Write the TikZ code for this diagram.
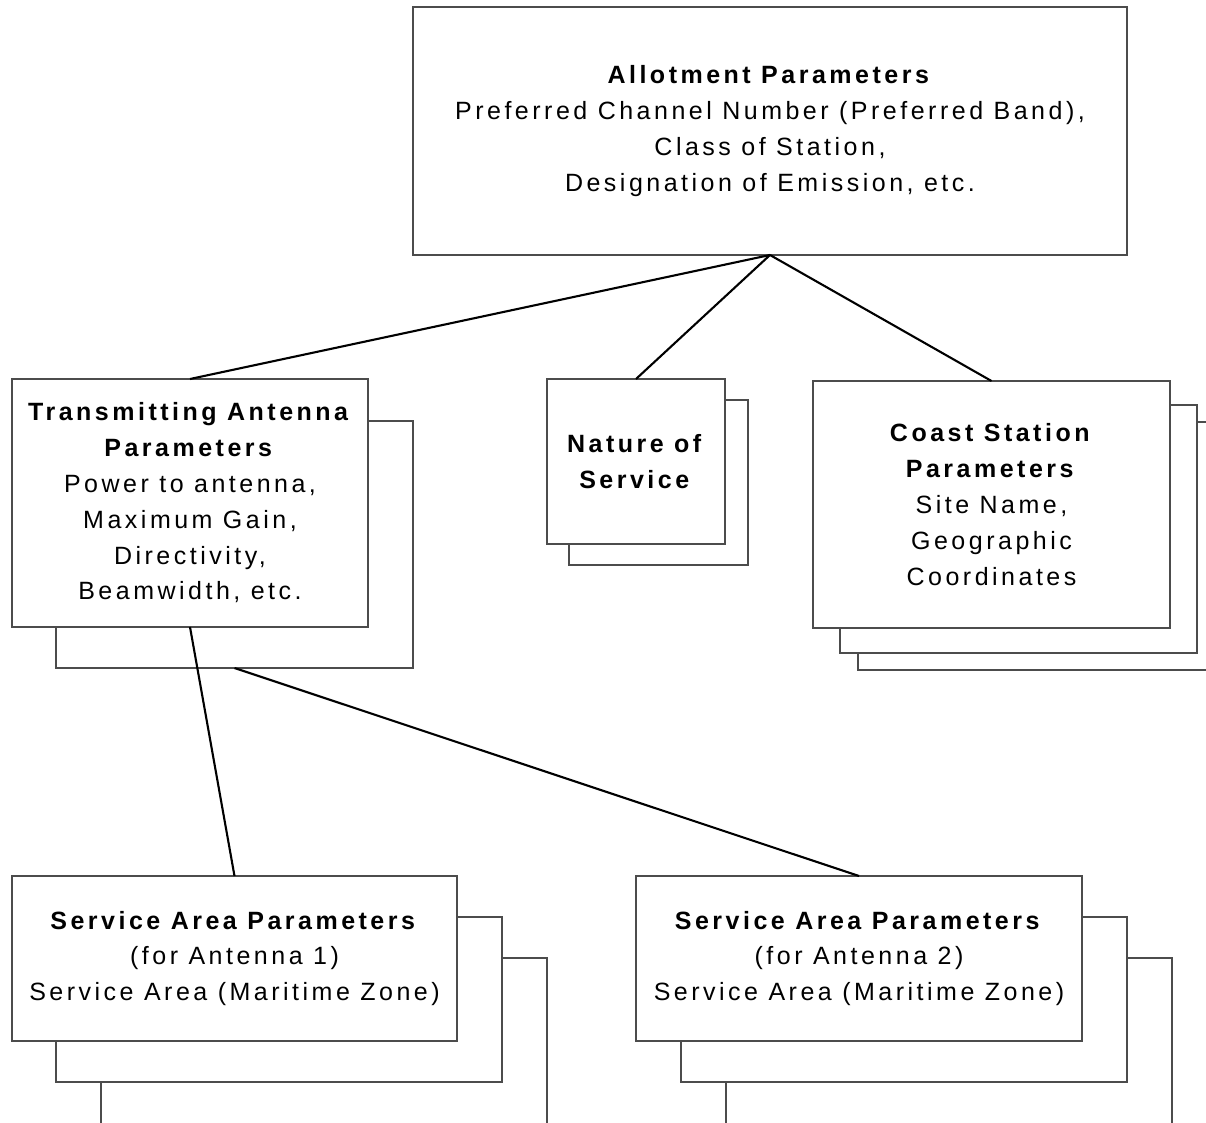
\documentclass[tikz,border=0pt]{standalone}
\usepackage{fontspec}
\setmainfont{Liberation Sans}[LetterSpace=14]
\begin{document}
\begin{tikzpicture}[x=1pt,y=-1pt,
  box/.style={draw=black!70, line width=1.1pt, fill=white, inner sep=0pt, outer sep=0pt,
    anchor=north west, align=center, font=\fontsize{25}{35.8}\selectfont},
  link/.style={line width=2.1pt, draw=black}]
\useasboundingbox (0,0) rectangle (1206,1123);
\clip (0,0) rectangle (1206,1123);

% top box
\node[box, minimum width=714pt, minimum height=248pt] (allot) at (413,7)
  {\textbf{Allotment Parameters}\\Preferred Channel Number (Preferred Band),\\Class of Station,\\Designation of Emission, etc.};

% transmitting antenna
\node[box, minimum width=357pt, minimum height=247pt] (tas) at (56,421) {};
\node[box, minimum width=356pt, minimum height=248pt] (ta) at (12,379)
  {\textbf{Transmitting Antenna}\\\textbf{Parameters}\\Power to antenna,\\Maximum Gain,\\Directivity,\\Beamwidth, etc.};

% nature of service
\node[box, minimum width=179pt, minimum height=165pt] (nss) at (569,400) {};
\node[box, minimum width=178pt, minimum height=165pt] (ns) at (547,379)
  {\textbf{Nature of}\\\textbf{Service}};

% coast station
\node[box, minimum width=357pt, minimum height=248pt] (cssb) at (858,422) {};
\node[box, minimum width=357pt, minimum height=248pt] (cssa) at (840,405) {};
\node[box, minimum width=357pt, minimum height=247pt] (cs) at (813,381)
  {\textbf{Coast Station}\\\textbf{Parameters}\\Site Name,\\Geographic\\Coordinates};

% service area 1
\node[box, minimum width=446pt, minimum height=200pt] (saasb) at (101,958) {};
\node[box, minimum width=446pt, minimum height=165pt] (saasa) at (56,917) {};
\node[box, minimum width=445pt, minimum height=165pt] (saa) at (12,876)
  {\textbf{Service Area Parameters}\\(for Antenna 1)\\Service Area (Maritime Zone)};

% service area 2
\node[box, minimum width=446pt, minimum height=200pt] (sabsb) at (726,958) {};
\node[box, minimum width=446pt, minimum height=165pt] (sabsa) at (681,917) {};
\node[box, minimum width=446pt, minimum height=165pt] (sab) at (636,876)
  {\textbf{Service Area Parameters}\\(for Antenna 2)\\Service Area (Maritime Zone)};

% connectors
\draw[link] (allot.south) -- (ta.north);
\draw[link] (allot.south) -- (ns.north);
\draw[link] (allot.south) -- (cs.north);
\draw[link] (ta.south) -- (saa.north);
\draw[link] (tas.south) -- (sab.north);
\end{tikzpicture}
\end{document}
